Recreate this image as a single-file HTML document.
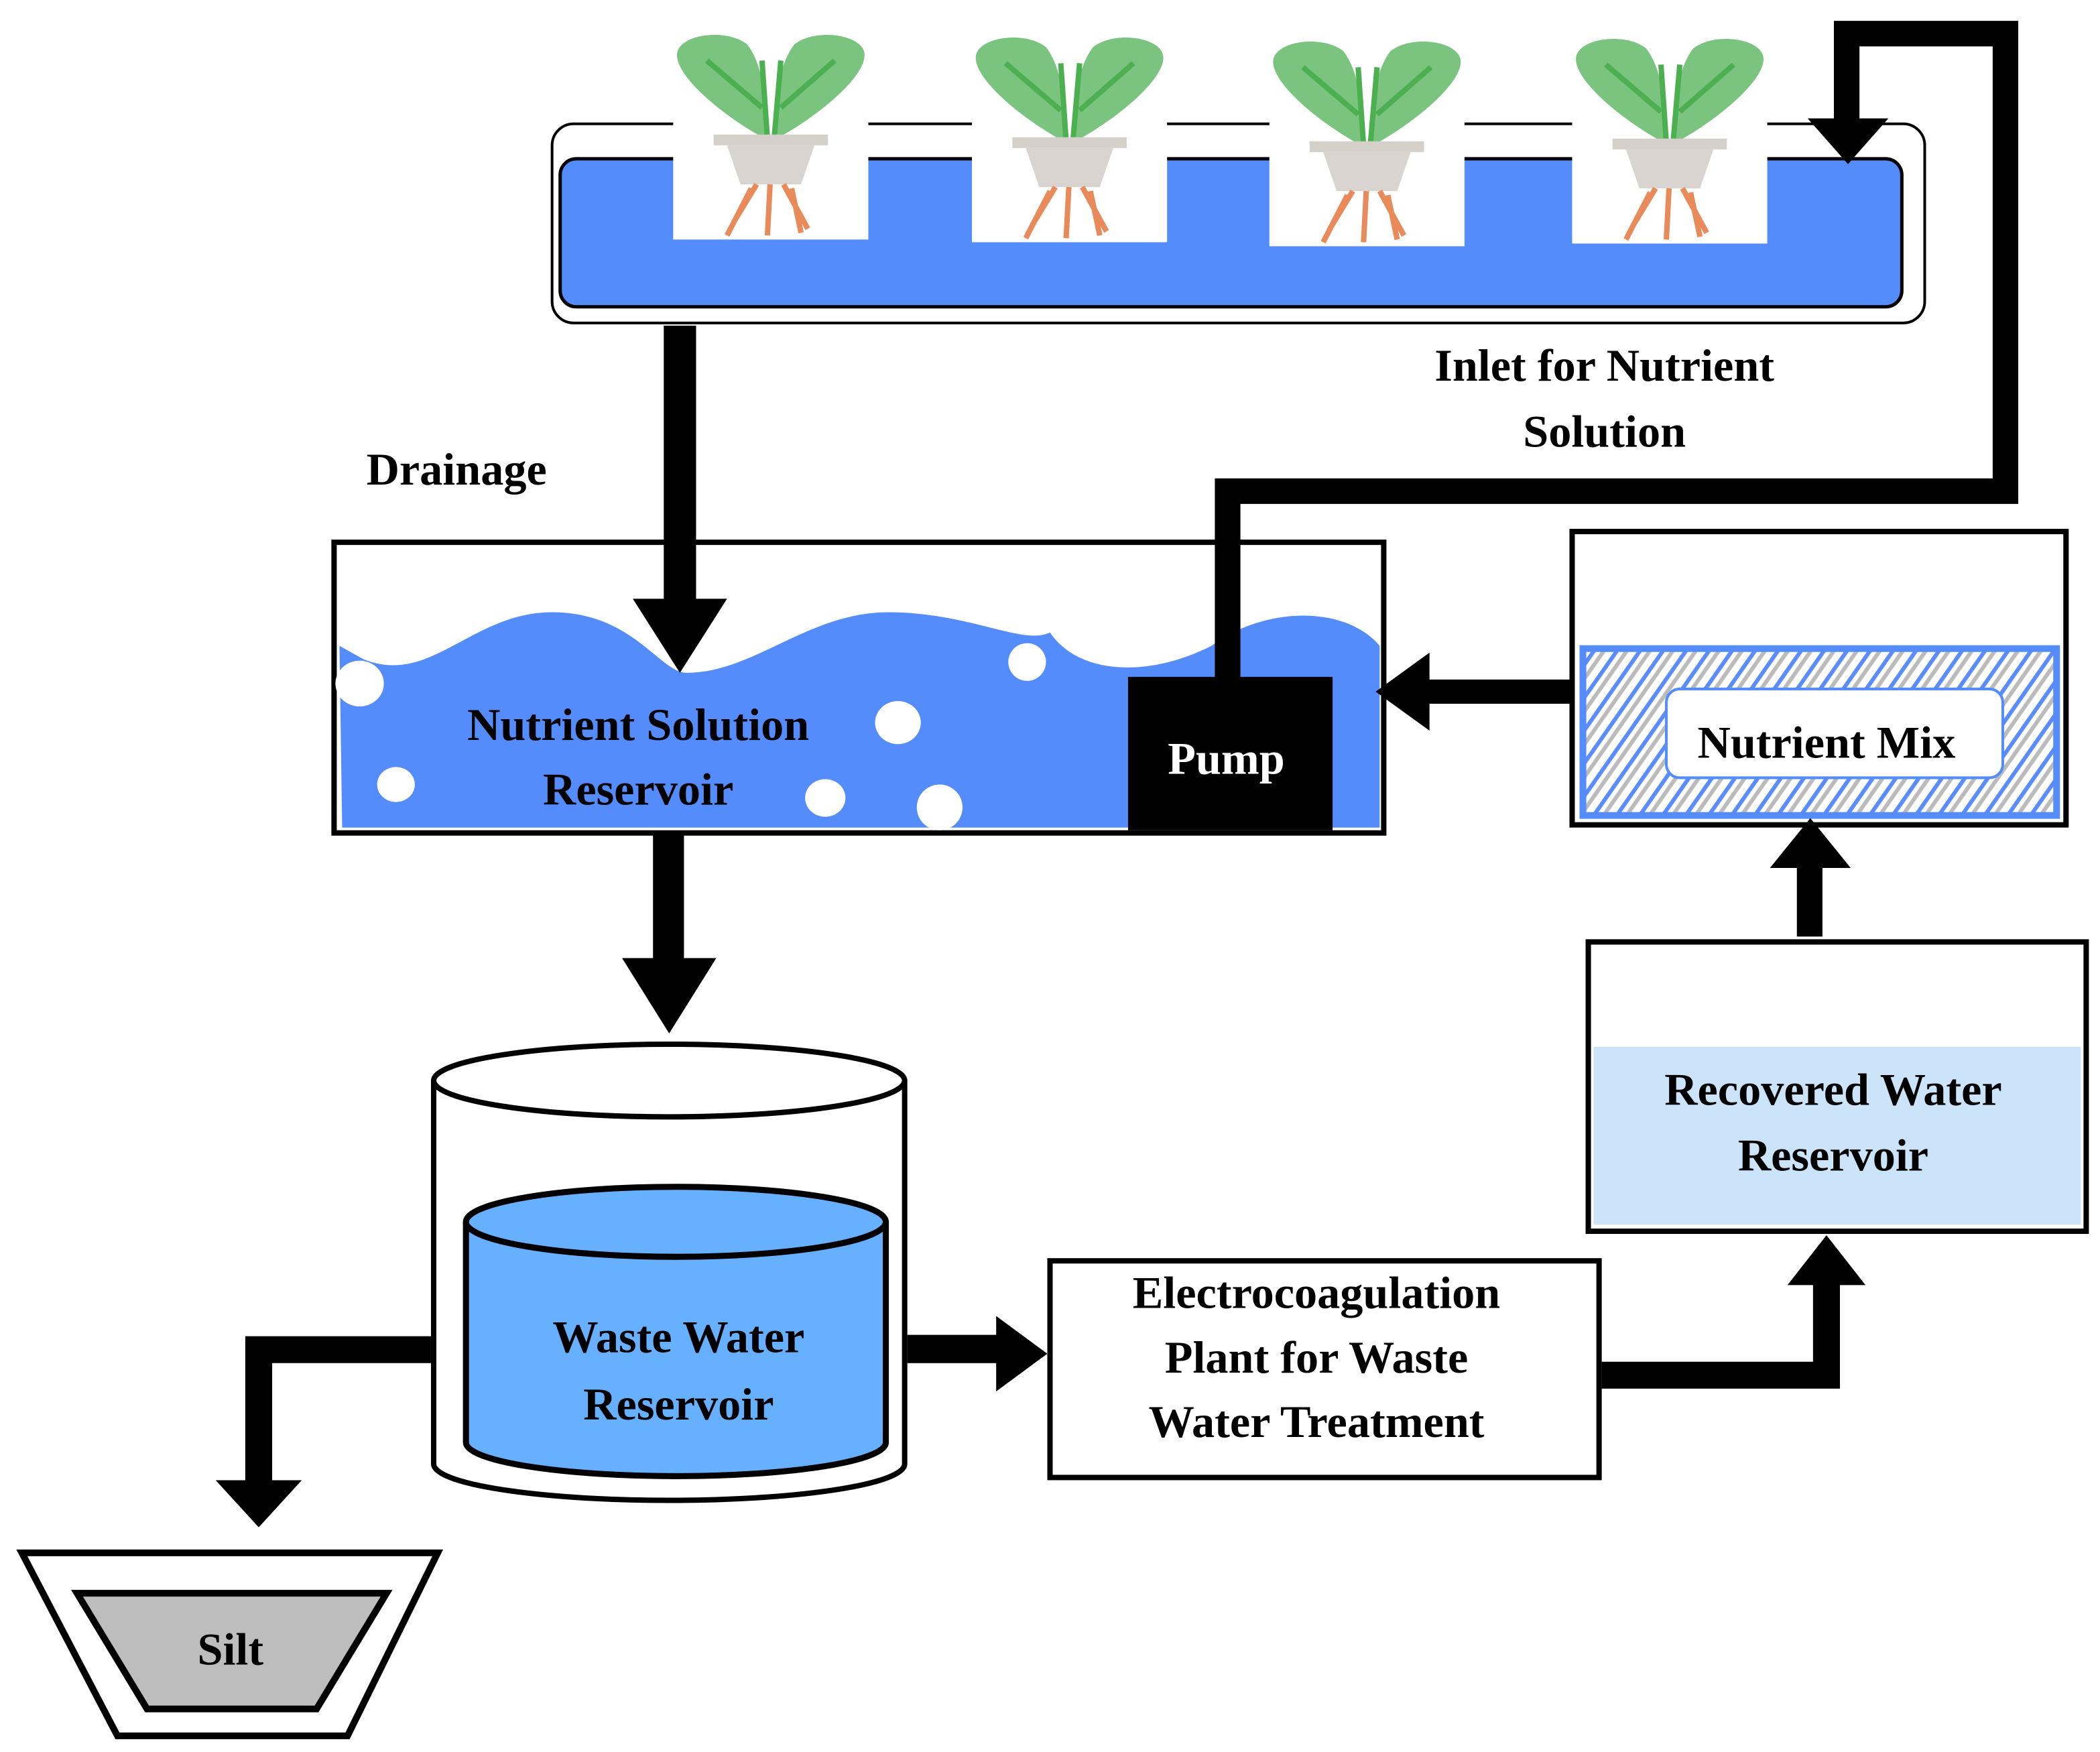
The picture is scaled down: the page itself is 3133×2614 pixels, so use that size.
<!DOCTYPE html>
<html><head><meta charset="utf-8"><style>
html,body{margin:0;padding:0;background:#fff;}
svg{display:block;}
text{font-family:"Liberation Serif",serif;font-weight:bold;}
</style></head><body>
<svg width="3133" height="2614" viewBox="0 0 1560 1302" xmlns="http://www.w3.org/2000/svg">
<defs>
<pattern id="hatch" width="14" height="14" patternUnits="userSpaceOnUse" patternTransform="rotate(35)">
<rect width="14" height="14" fill="#fff"/>
<rect x="0" width="3" height="14" fill="#5a8cff"/>
<rect x="6" width="3" height="14" fill="#bbb"/>
</pattern>
<g id="plant">
<rect x="0" y="0" width="145" height="153" fill="#fff"/>
<path d="M68 78 C35 60 0 30 3 14 C6 0 40 -4 55 8 C68 25 70 55 68 78Z" fill="#7ac47f"/>
<path d="M77 78 C110 60 145 30 142 14 C139 0 105 -4 90 8 C77 25 75 55 77 78Z" fill="#7ac47f"/>
<path d="M70 78 L66 20 M66 55 L25 20 M75 78 L80 20 M80 55 L120 20" stroke="#4caf50" stroke-width="4" fill="none"/>
<rect x="30" y="75" width="85" height="8" fill="#d6d0cb"/>
<path d="M40 83 L105 83 L95 112 L50 112Z" fill="#d9d4cf"/>
<path d="M72 112 L70 150 M62 112 L45 140 M82 112 L100 145 M58 115 L40 150 M88 115 L95 148" stroke="#e88a5a" stroke-width="4" fill="none"/>
</g>
</defs>
<!-- tray -->
<rect x="410" y="92" width="1020" height="148" rx="16" fill="#fff" stroke="#000" stroke-width="2"/>
<rect x="416" y="118" width="997" height="110" rx="12" fill="#548cfc" stroke="#000" stroke-width="2.5"/>
<use href="#plant" x="500" y="25"/>
<use href="#plant" x="722" y="27"/>
<use href="#plant" x="943" y="30"/>
<use href="#plant" x="1168" y="28"/>
<!-- nutrient reservoir -->
<rect x="248" y="403" width="780" height="216" fill="#fff" stroke="#000" stroke-width="4"/>
<path d="M252 480 L270 490 C320 510 350 455 410 455 C470 455 490 500 510 500 C560 500 600 455 660 455 C720 455 760 480 780 470 C800 500 850 505 900 480 C940 450 1000 450 1025 480 L1025 615 L254 615Z" fill="#548cfc"/>
<g fill="#fff">
<ellipse cx="267" cy="508" rx="18" ry="17"/>
<ellipse cx="667" cy="537" rx="17" ry="16"/>
<ellipse cx="763" cy="492" rx="14" ry="14"/>
<ellipse cx="294" cy="583" rx="14" ry="13"/>
<ellipse cx="613" cy="593" rx="15" ry="14"/>
<ellipse cx="698" cy="600" rx="17" ry="17"/>
</g>
<rect x="838" y="503" width="152" height="114" fill="#000"/>
<text x="911" y="575" font-size="34" fill="#fff" text-anchor="middle">Pump</text>
<text x="474" y="550" font-size="34" text-anchor="middle">Nutrient Solution</text>
<text x="474" y="598" font-size="34" text-anchor="middle">Reservoir</text>
<!-- inlet pipe -->
<path d="M912 505 L912 365 L1490 365 L1490 25 L1372 25 L1372 90" fill="none" stroke="#000" stroke-width="19"/>
<polygon points="1343,88 1403,88 1373,122" fill="#000"/>
<!-- drainage -->
<rect x="493" y="242" width="24" height="205" fill="#000"/>
<polygon points="470,445 540,445 505,500" fill="#000"/>
<text x="272" y="360" font-size="34">Drainage</text>
<text x="1192" y="283" font-size="34" text-anchor="middle">Inlet for Nutrient</text>
<text x="1192" y="332" font-size="34" text-anchor="middle">Solution</text>
<!-- arrow mix -> reservoir -->
<rect x="1058" y="505" width="112" height="18" fill="#000"/>
<polygon points="1022,514 1062,485 1062,543" fill="#000"/>
<!-- nutrient mix -->
<rect x="1168" y="395" width="367" height="218" fill="#fff" stroke="#000" stroke-width="4"/>
<rect x="1176" y="482" width="352" height="124" fill="url(#hatch)" stroke="#548cfc" stroke-width="5"/>
<rect x="1238" y="512" width="250" height="66" rx="10" fill="#fff" stroke="#548cfc" stroke-width="2"/>
<text x="1357" y="563" font-size="34" text-anchor="middle">Nutrient Mix</text>
<!-- arrow up to mix -->
<rect x="1335" y="640" width="19" height="56" fill="#000"/>
<polygon points="1315,645 1375,645 1345,608" fill="#000"/>
<!-- recovered -->
<rect x="1180" y="700" width="370" height="215" fill="#fff" stroke="#000" stroke-width="4"/>
<rect x="1184" y="778" width="362" height="132" fill="#cce4fa"/>
<text x="1362" y="821" font-size="34" text-anchor="middle">Recovered Water</text>
<text x="1362" y="870" font-size="34" text-anchor="middle">Reservoir</text>
<!-- EC -> recovered -->
<path d="M1190 1022 L1357 1022 L1357 950" fill="none" stroke="#000" stroke-width="20"/>
<polygon points="1328,955 1386,955 1357,918" fill="#000"/>
<!-- EC box -->
<rect x="780" y="937" width="408" height="161" fill="#fff" stroke="#000" stroke-width="4"/>
<text x="978" y="972" font-size="34" text-anchor="middle">Electrocoagulation</text>
<text x="978" y="1020" font-size="34" text-anchor="middle">Plant for Waste</text>
<text x="978" y="1068" font-size="34" text-anchor="middle">Water Treatment</text>
<!-- cylinder -> EC -->
<rect x="674" y="992" width="70" height="21" fill="#000"/>
<polygon points="740,978 740,1034 778,1006" fill="#000"/>
<!-- reservoir -> cylinder -->
<rect x="485" y="620" width="23" height="94" fill="#000"/>
<polygon points="462,712 532,712 497,768" fill="#000"/>
<!-- outer cylinder -->
<path d="M322 803 L322 1088 A175 27 0 0 0 672 1088 L672 803" fill="#fff" stroke="#000" stroke-width="4"/>
<ellipse cx="497" cy="803" rx="175" ry="27" fill="#fff" stroke="#000" stroke-width="4"/>
<!-- inner cylinder -->
<path d="M346 908 L346 1072 A156 25 0 0 0 658 1072 L658 908" fill="#66b0ff" stroke="#000" stroke-width="4.5"/>
<ellipse cx="502" cy="908" rx="156" ry="26" fill="#66b0ff" stroke="#000" stroke-width="4.5"/>
<text x="504" y="1005" font-size="34" text-anchor="middle">Waste Water</text>
<text x="504" y="1055" font-size="34" text-anchor="middle">Reservoir</text>
<!-- silt arrow -->
<path d="M320 1003 L192 1003 L192 1102" fill="none" stroke="#000" stroke-width="20"/>
<polygon points="160,1100 224,1100 192,1135" fill="#000"/>
<!-- silt -->
<polygon points="16,1154 325,1154 258,1290 87,1290" fill="#fff" stroke="#000" stroke-width="5"/>
<polygon points="57,1184 287,1184 235,1270 109,1270" fill="#bdbdbd" stroke="#000" stroke-width="5"/>
<text x="171" y="1237" font-size="34" text-anchor="middle" font-weight="normal">Silt</text>
</svg>
</body></html>
